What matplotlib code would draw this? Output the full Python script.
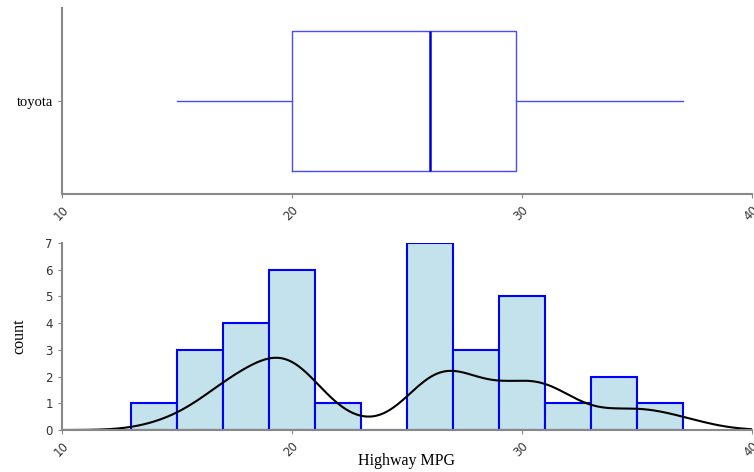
import numpy as np
import matplotlib
matplotlib.use("Agg")
import matplotlib.pyplot as plt

# toyota highway mpg values
hwy = [20, 20, 19, 17, 20, 17,
       27, 29, 31, 31, 26, 26, 28,
       27, 29, 31, 31, 26, 26, 27,
       30, 33, 35, 37, 35,
       15, 18,
       20, 20, 22, 17, 19, 18, 20]

# histogram bars as drawn
bin_left = [13, 15, 17, 19, 21, 23, 25, 27, 29, 31, 33, 35]
counts = [1, 3, 4, 6, 1, 0, 7, 3, 5, 1, 2, 1]
bin_width = 2
bandwidth = 1.4

grey = "#888888"
serif = "Liberation Serif"

def style_axes(ax):
    for s in ["top", "right"]:
        ax.spines[s].set_visible(False)
    for s in ["left", "bottom"]:
        ax.spines[s].set_color(grey)
        ax.spines[s].set_linewidth(1.5)
    ax.tick_params(colors=grey, labelcolor="#333333", labelsize=8.5, length=3)
    ax.set_xlim(10, 40)
    ax.set_xticks([10, 20, 30, 40])
    for lab in ax.get_xticklabels():
        lab.set_rotation(45)
        lab.set_ha("right")
        lab.set_va("top")
        lab.set_rotation_mode("anchor")

fig = plt.figure(figsize=(7.54, 4.72), dpi=100)
ax1 = fig.add_axes([62/754, 1-194/472, 690/754, 186/472])
ax2 = fig.add_axes([62/754, 1-430/472, 690/754, 187/472])

# top: boxplot
ax1.boxplot([hwy], vert=False, positions=[0], widths=0.75, whis=(0, 100),
            showcaps=False, showfliers=False,
            boxprops=dict(color="#4a4aff", linewidth=1),
            whiskerprops=dict(color="#4a4aff", linewidth=1),
            medianprops=dict(color="#0000dd", linewidth=1.8))
ax1.set_ylim(-0.5, 0.5)
ax1.set_yticks([0])
style_axes(ax1)
ax1.set_yticklabels(["toyota"], family=serif, fontsize=10.5, color="black")

# bottom: histogram + kde
ax2.bar(bin_left, counts, width=bin_width, align="edge",
        color="#c3e2eb", edgecolor="#0000ff", linewidth=1.5)
xs = np.linspace(10, 40, 400)
data = np.array(hwy, dtype=float)
dens = np.exp(-0.5 * ((xs[:, None] - data[None, :]) / bandwidth) ** 2).sum(axis=1)
dens = dens / (bandwidth * np.sqrt(2 * np.pi))
ax2.plot(xs, dens, color="black", linewidth=1.5)
ax2.set_ylim(0, 7)
ax2.set_yticks(range(8))
style_axes(ax2)
ax2.set_ylabel("count", family=serif, fontsize=11.5)
ax2.yaxis.set_label_coords(-0.05, 0.5)
ax2.set_xlabel("Highway MPG", family=serif, fontsize=11.5)
ax2.xaxis.set_label_coords(0.5, -0.125)

fig.savefig("out.png", dpi=100)
